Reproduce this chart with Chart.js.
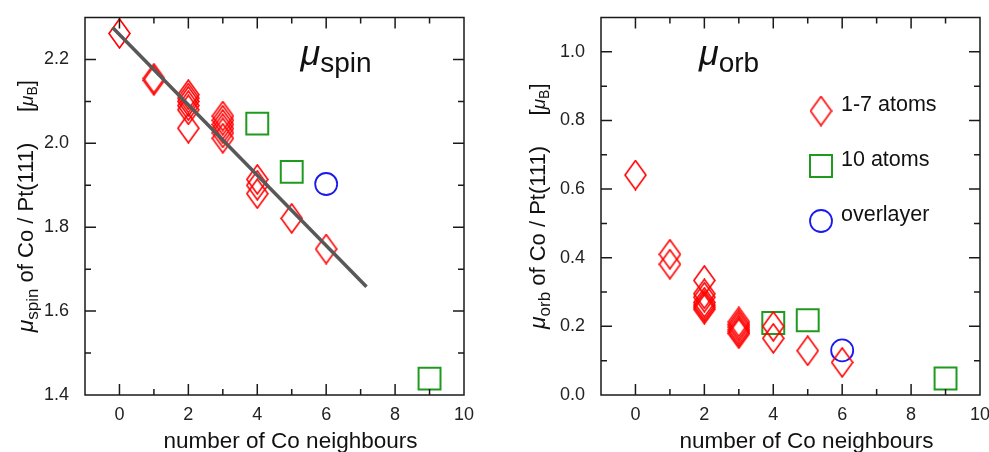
<!DOCTYPE html>
<html>
<head>
    <title>Co / Pt(111) moments</title>
    <script src="https://cdn.jsdelivr.net/npm/chart.js"></script>
    <style>
        body { margin: 0; background: #fff; overflow: hidden; }
        .box { position: absolute; top: 0; height: 452px; }
    </style>
</head>
<body>
    <div class="box" style="left:0; width:500px;"><canvas id="spinChart" width="500" height="452"></canvas></div>
    <div class="box" style="left:500px; width:510px;"><canvas id="orbChart" width="510" height="452"></canvas></div>

    <script>
        // number of Co neighbours and moments (mu_B)
        const spinSmallN = [0, 1, 1, 2, 2, 2, 2, 2, 2, 3, 3, 3, 3, 3, 3, 4, 4, 4, 5, 6];
        const spinSmall = [2.262, 2.155, 2.150, 2.116, 2.108, 2.100, 2.090, 2.080, 2.036, 2.065, 2.055, 2.045, 2.035, 2.025, 2.012, 1.914, 1.900, 1.880, 1.821, 1.748];
        const spinTenN = [4, 5, 9];
        const spinTen = [2.047, 1.932, 1.439];
        const spinLayerN = [6];
        const spinLayer = [1.903];
        const spinFitN = [-0.2, 7.17];
        const spinFit = [2.276, 1.658];

        const orbSmallN = [0, 1, 1, 2, 2, 2, 2, 2, 2, 2, 3, 3, 3, 3, 3, 3, 4, 4, 5, 6];
        const orbSmall = [0.641, 0.410, 0.381, 0.334, 0.295, 0.285, 0.270, 0.262, 0.256, 0.250, 0.213, 0.205, 0.198, 0.190, 0.184, 0.179, 0.200, 0.165, 0.129, 0.095];
        const orbTenN = [4, 5, 9];
        const orbTen = [0.210, 0.218, 0.048];
        const orbLayerN = [6];
        const orbLayer = [0.130];

        const legendLabels = ['1-7 atoms', '10 atoms', 'overlayer'];
        const xTitle = 'number of Co neighbours';

        const FONT = '"Liberation Sans", Arial, sans-serif';
        const RED = '#ff0000', GREEN = '#1f9a1f', BLUE = '#1a1aee';

        // tall open diamond used as point style
        const diamond = document.createElement('canvas');
        diamond.width = 23;
        diamond.height = 31;
        (function () {
            const c = diamond.getContext('2d');
            c.strokeStyle = RED;
            c.lineWidth = 1.6;
            c.beginPath();
            c.moveTo(11.5, 1);
            c.lineTo(22, 15.5);
            c.lineTo(11.5, 30);
            c.lineTo(1, 15.5);
            c.closePath();
            c.stroke();
        })();

        function pts(xs, ys) {
            return xs.map((x, i) => ({ x: x, y: ys[i] }));
        }

        // draws a run of text pieces (font, offset) centred on x along the baseline
        function drawRun(ctx, parts, x, y) {
            let w = 0;
            parts.forEach(p => { ctx.font = p.font; w += ctx.measureText(p.t).width; });
            let cx = x - w / 2;
            ctx.textBaseline = 'alphabetic';
            ctx.textAlign = 'left';
            parts.forEach(p => {
                ctx.font = p.font;
                ctx.fillText(p.t, cx, y + (p.dy || 0));
                cx += ctx.measureText(p.t).width;
            });
        }

        const deco = {
            id: 'deco',
            afterDraw(chart, args, opts) {
                const ctx = chart.ctx;
                const a = chart.chartArea;
                const xs = chart.scales.x, ys = chart.scales.y;
                ctx.save();
                ctx.strokeStyle = '#1a1a1a';
                ctx.lineWidth = 1.5;
                ctx.strokeRect(a.left, a.top, a.right - a.left, a.bottom - a.top);

                // inward ticks on all four sides
                ctx.beginPath();
                xs.ticks.forEach(t => {
                    const p = xs.getPixelForValue(t.value);
                    if (p <= a.left + 1 || p >= a.right - 1) return;
                    const len = Math.round(t.value) % 2 === 0 ? 11 : 6;
                    ctx.moveTo(p, a.bottom); ctx.lineTo(p, a.bottom - len);
                    ctx.moveTo(p, a.top); ctx.lineTo(p, a.top + len);
                });
                ys.ticks.forEach(t => {
                    const p = ys.getPixelForValue(t.value);
                    if (p <= a.top + 1 || p >= a.bottom - 1) return;
                    const len = Math.round(t.value * 10) % 2 === 0 ? 11 : 6;
                    ctx.moveTo(a.left, p); ctx.lineTo(a.left + len, p);
                    ctx.moveTo(a.right, p); ctx.lineTo(a.right - len, p);
                });
                ctx.stroke();

                ctx.fillStyle = '#111';
                // panel label
                drawRun(ctx, [
                    { t: 'μ', font: 'italic 36px ' + FONT, dy: -7 },
                    { t: opts.sub, font: '28px ' + FONT }
                ], opts.labelX, 72);

                // x title
                ctx.font = '22.5px ' + FONT;
                ctx.textAlign = 'center';
                ctx.textBaseline = 'alphabetic';
                ctx.fillText(xTitle, (a.left + a.right) / 2 + 16, 448);

                // y title, rotated
                ctx.translate(a.left - opts.yTitleGap, (a.top + a.bottom) / 2);
                ctx.rotate(-Math.PI / 2);
                drawRun(ctx, [
                    { t: 'μ', font: 'italic 23px ' + FONT },
                    { t: opts.sub, font: '17px ' + FONT, dy: 5 },
                    { t: ' of Co / Pt(111)     [', font: '22px ' + FONT },
                    { t: 'μ', font: 'italic 19px ' + FONT },
                    { t: 'B', font: '14px ' + FONT, dy: 4 },
                    { t: ']', font: '22px ' + FONT }
                ], 0, 0);
                ctx.restore();
            }
        };

        // legend of the right panel
        const legendPlugin = {
            id: 'legendText',
            afterDraw(chart, args, opts) {
                if (!opts.show) return;
                const ctx = chart.ctx;
                const lx = 321, ly = [111, 166, 221];
                ctx.save();
                ctx.drawImage(diamond, lx - diamond.width / 2, ly[0] - diamond.height / 2);
                ctx.lineWidth = 2;
                ctx.strokeStyle = GREEN;
                ctx.strokeRect(lx - 11, ly[1] - 11, 22, 22);
                ctx.strokeStyle = BLUE;
                ctx.lineWidth = 1.8;
                ctx.beginPath();
                ctx.arc(lx, ly[2], 11, 0, Math.PI * 2);
                ctx.stroke();
                ctx.fillStyle = '#111';
                ctx.font = '21.5px ' + FONT;
                ctx.textAlign = 'left';
                ctx.textBaseline = 'alphabetic';
                legendLabels.forEach((s, i) => ctx.fillText(s, lx + 20, ly[i]));
                ctx.restore();
            }
        };

        function makeChart(id, datasets, yMin, yMax, padRight, yWidth, decoOpts, showLegend) {
            const ctx = document.getElementById(id).getContext('2d');
            return new Chart(ctx, {
                type: 'scatter',
                data: { datasets: datasets },
                options: {
                    responsive: false,
                    animation: false,
                    events: [],
                    layout: { padding: { top: 15, right: padRight, left: 0, bottom: 0 } },
                    plugins: {
                        legend: { display: false },
                        tooltip: { enabled: false },
                        deco: decoOpts,
                        legendText: { show: showLegend }
                    },
                    scales: {
                        x: {
                            type: 'linear', min: -1, max: 10,
                            grid: { display: false, drawTicks: false },
                            border: { display: false },
                            ticks: {
                                stepSize: 1, padding: 9, color: '#222',
                                font: { family: FONT, size: 18 },
                                maxRotation: 0, autoSkip: false,
                                callback: v => (v >= 0 && Math.round(v) % 2 === 0) ? String(Math.round(v)) : ''
                            },
                            afterFit: s => { s.height = 57; s.paddingLeft = 0; s.paddingRight = 0; }
                        },
                        y: {
                            type: 'linear', min: yMin, max: yMax,
                            grid: { display: false, drawTicks: false },
                            border: { display: false },
                            ticks: {
                                stepSize: 0.1, padding: 16, color: '#222',
                                font: { family: FONT, size: 18 }, autoSkip: false,
                                callback: v => Math.round(v * 10) % 2 === 0 ? v.toFixed(1) : ''
                            },
                            afterFit: s => { s.width = yWidth; s.paddingTop = 0; s.paddingBottom = 0; }
                        }
                    }
                },
                plugins: [deco, legendPlugin]
            });
        }

        makeChart('spinChart', [
            {
                label: 'fit', data: pts(spinFitN, spinFit), showLine: true,
                borderColor: '#585858', borderWidth: 3.5, pointRadius: 0
            },
            {
                label: legendLabels[0], data: pts(spinSmallN, spinSmall),
                pointStyle: diamond, pointRadius: 12
            },
            {
                label: legendLabels[1], data: pts(spinTenN, spinTen),
                pointStyle: 'rect', pointRadius: 15.5, borderColor: GREEN, borderWidth: 2,
                backgroundColor: 'rgba(0,0,0,0)'
            },
            {
                label: legendLabels[2], data: pts(spinLayerN, spinLayer),
                pointStyle: 'circle', pointRadius: 11, borderColor: BLUE, borderWidth: 1.8,
                backgroundColor: 'rgba(0,0,0,0)'
            }
        ], 1.4, 2.3, 36, 85, { sub: 'spin', labelX: 336, yTitleGap: 52 }, false);

        // right canvas runs past the window edge so the "10" label does not squeeze the plot
        makeChart('orbChart', [
            {
                label: legendLabels[0], data: pts(orbSmallN, orbSmall),
                pointStyle: diamond, pointRadius: 12
            },
            {
                label: legendLabels[1], data: pts(orbTenN, orbTen),
                pointStyle: 'rect', pointRadius: 15.5, borderColor: GREEN, borderWidth: 2,
                backgroundColor: 'rgba(0,0,0,0)'
            },
            {
                label: legendLabels[2], data: pts(orbLayerN, orbLayer),
                pointStyle: 'circle', pointRadius: 11, borderColor: BLUE, borderWidth: 1.8,
                backgroundColor: 'rgba(0,0,0,0)'
            }
        ], 0, 1.1, 30, 101, { sub: 'orb', labelX: 229, yTitleGap: 56 }, true);
    </script>
</body>
</html>
